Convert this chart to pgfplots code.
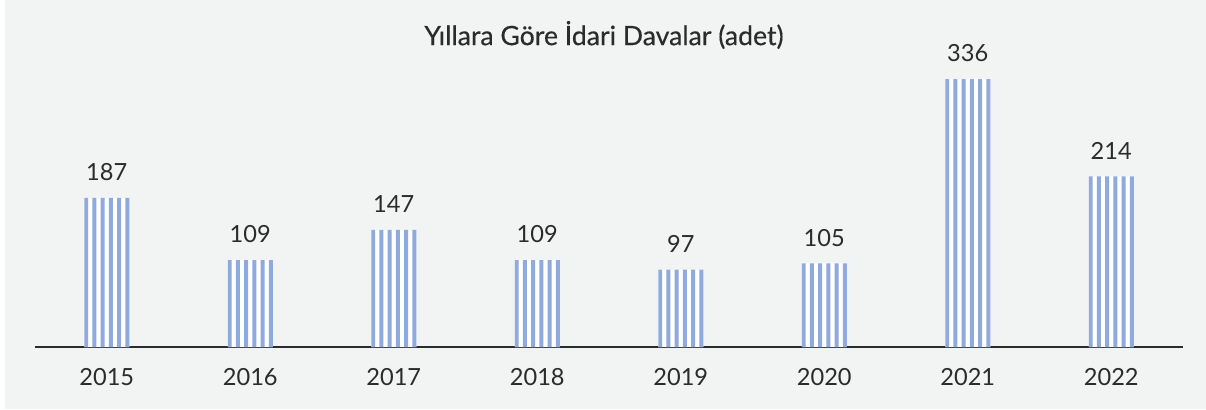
\documentclass[border=0pt]{standalone}
\usepackage{fontspec}
\setmainfont{Lato}
\newfontfamily\titlefont[FakeBold=0.4]{Lato}
\usepackage{pgfplots}
\pgfplotsset{compat=1.18}
\definecolor{bgc}{HTML}{F2F3F3}
\definecolor{barc}{HTML}{8FAADC}
\definecolor{txt}{HTML}{2B2B2B}
\pgfplotstableread{
x y
0 187
1 109
2 147
3 109
4 97
5 105
6 336
7 214
}\datatable
\begin{document}
\begin{tikzpicture}
\useasboundingbox (0,0) rectangle (603pt,204.5pt);
\fill[white] (0,0) rectangle (603pt,204.5pt);
\fill[bgc] (2.5pt,0) rectangle (603pt,204.5pt);
\node[font=\titlefont\fontsize{13.3}{15}\selectfont, text=txt] at (302pt,187pt) {Yıllara Göre İdari Davalar (adet)};
\begin{axis}[
  at={(17.5pt,31pt)}, anchor=south west,
  scale only axis, width=574pt, height=163.5pt,
  xmin=-0.5, xmax=7.5, ymin=0, ymax=410,
  axis x line=bottom, axis y line=none,
  x axis line style={draw=txt, line width=1pt, -},
  xtick=data,
  xticklabels={2015,2016,2017,2018,2019,2020,2021,2022},
  major tick length=0pt,
  xticklabel style={font=\fontsize{11.8}{13}\selectfont, text=txt, yshift=-7pt},
  /pgf/number format/assume math mode=true,
  ybar,
  every node near coord/.append style={font=\fontsize{11.8}{13}\selectfont, text=txt, yshift=5pt},
]
\addplot[draw=none, fill=white, bar width=22.5pt, bar shift=0pt, nodes near coords] table[x=x,y=y] {\datatable};
\addplot[draw=none, fill=barc, bar width=1.9pt, bar shift=-10.3pt] table[x=x,y=y] {\datatable};
\addplot[draw=none, fill=barc, bar width=1.9pt, bar shift=-6.18pt] table[x=x,y=y] {\datatable};
\addplot[draw=none, fill=barc, bar width=1.9pt, bar shift=-2.06pt] table[x=x,y=y] {\datatable};
\addplot[draw=none, fill=barc, bar width=1.9pt, bar shift=2.06pt] table[x=x,y=y] {\datatable};
\addplot[draw=none, fill=barc, bar width=1.9pt, bar shift=6.18pt] table[x=x,y=y] {\datatable};
\addplot[draw=none, fill=barc, bar width=1.9pt, bar shift=10.3pt] table[x=x,y=y] {\datatable};
\end{axis}
\end{tikzpicture}
\end{document}
